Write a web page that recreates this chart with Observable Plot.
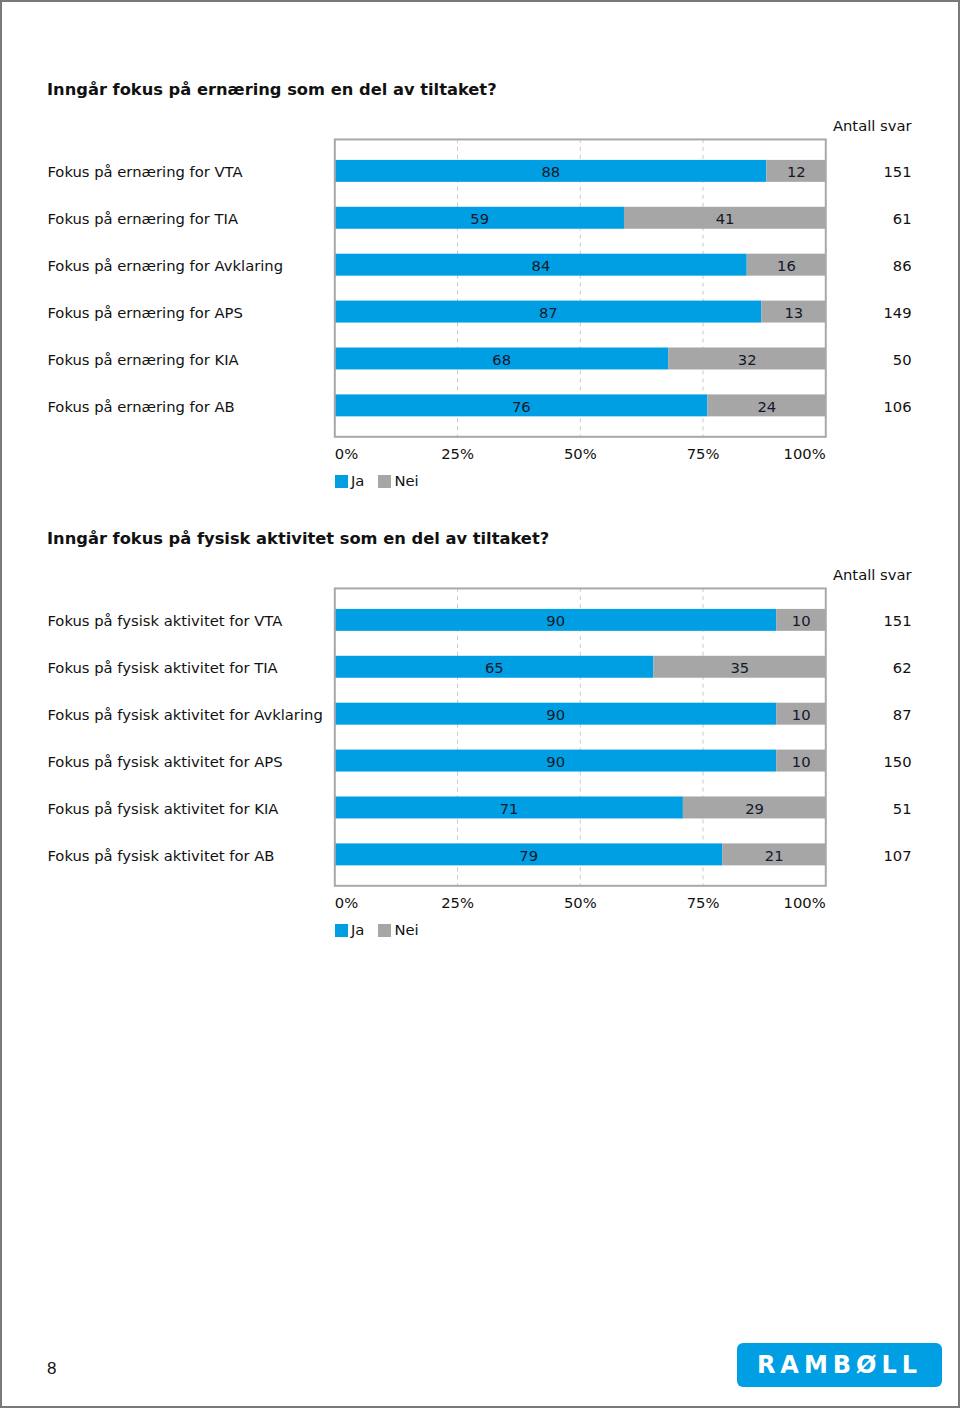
<!DOCTYPE html>
<html>
<head>
<meta charset="utf-8">
<script src="https://cdn.jsdelivr.net/npm/d3@7"></script>
<script src="https://cdn.jsdelivr.net/npm/@observablehq/plot@0.6"></script>
<style>
  html, body { margin: 0; padding: 0; background: #fff; }
  #page { position: relative; width: 956px; height: 1404px; border: 2px solid #7a7a7a; overflow: hidden; font-family: "DejaVu Sans", Verdana, sans-serif; color: #111; }
  .title { position: absolute; left: 45px; font-weight: bold; font-size: 16.3px; line-height: 20px; }
  .chart { position: absolute; left: -2px; }
  .legend { position: absolute; left: 333px; font-size: 14.8px; line-height: 18px; display: flex; align-items: center; }
  .sw { display: inline-block; width: 13px; height: 13px; margin-right: 3px; }
  .legend span.lab { margin-right: 14px; }
  #pnum { position: absolute; left: 45px; top: 1357px; font-family: "Liberation Sans", Arial, sans-serif; font-size: 17px; }
  #logo { position: absolute; left: 735px; top: 1341px; width: 205px; height: 44px; background: #009fe3; border-radius: 6px; color: #fff; font-family: "DejaVu Sans", sans-serif; font-weight: bold; font-size: 24px; letter-spacing: 5px; display: flex; align-items: center; justify-content: center; }
</style>
</head>
<body>
<div id="page"></div>
<script>
const titles = [
  "Inngår fokus på ernæring som en del av tiltaket?",
  "Inngår fokus på fysisk aktivitet som en del av tiltaket?"
];
const groups = ["VTA", "TIA", "Avklaring", "APS", "KIA", "AB"];
const prefixes = ["Fokus på ernæring for", "Fokus på fysisk aktivitet for"];
const ja1 = [88, 59, 84, 87, 68, 76];
const nei1 = [12, 41, 16, 13, 32, 24];
const n1 = [151, 61, 86, 149, 50, 106];
const ja2 = [90, 65, 90, 90, 71, 79];
const nei2 = [10, 35, 10, 10, 29, 21];
const n2 = [151, 62, 87, 150, 51, 107];
const seriesNames = ["Ja", "Nei"];
const seriesColors = ["#009fe3", "#a6a6a6"];
const tickValues = [0, 25, 50, 75, 100];
const tickLabels = ["0%", "25%", "50%", "75%", "100%"];
const countHeader = "Antall svar";

const page = document.getElementById("page");
const FONT = "DejaVu Sans, Verdana, sans-serif";
const FS = 14.8;

function makeChart(idx, ja, nei, counts, offset) {
  const labels = groups.map(g => prefixes[idx] + " " + g);
  const rows = [];
  labels.forEach((l, i) => {
    rows.push({label: l, series: "Ja", value: ja[i]});
    rows.push({label: l, series: "Nei", value: nei[i]});
  });
  const countRows = labels.map((l, i) => ({label: l, n: counts[i]}));
  const ticks = tickValues.map((v, i) => ({v, t: tickLabels[i]}));

  const t = document.createElement("div");
  t.className = "title";
  t.style.top = (78 + offset) + "px";
  t.textContent = titles[idx];
  page.appendChild(t);

  const common = {fill: "#111", fontSize: FS, lineAnchor: "middle"};
  const svg = Plot.plot({
    width: 960,
    height: 357,
    marginLeft: 335,
    marginRight: 133,
    marginTop: 29,
    marginBottom: 30,
    style: {fontFamily: FONT, fontSize: FS + "px", color: "#111", background: "transparent"},
    x: {domain: [0, 100], axis: null},
    y: {domain: labels, axis: null, paddingInner: 0.532, paddingOuter: 0.436},
    color: {domain: seriesNames, range: seriesColors},
    marks: [
      Plot.ruleX([25, 50, 75], {stroke: "#c8c8c8", strokeDasharray: "4,4", strokeWidth: 1}),
      Plot.barX(rows, Plot.stackX({x: "value", y: "label", fill: "series", order: seriesNames})),
      Plot.text(rows, Plot.stackX({x: "value", y: "label", z: "series", order: seriesNames, text: d => String(d.value), fill: "#14182a", fontSize: FS, lineAnchor: "middle", dy: 1})),
      Plot.frame({stroke: "#a8a8a8", strokeWidth: 2}),
      Plot.text(labels, {...common, y: d => d, text: d => d, frameAnchor: "left", textAnchor: "start", dx: -288, dy: 1}),
      Plot.text(countRows, {...common, y: "label", text: d => String(d.n), frameAnchor: "right", textAnchor: "end", dx: 86, dy: 1}),
      Plot.text([countHeader], {...common, text: d => d, frameAnchor: "top-right", textAnchor: "end", dx: 86, dy: -13}),
      Plot.text(ticks.filter(d => d.v === 0), {...common, x: "v", text: "t", frameAnchor: "bottom", dy: 17, textAnchor: "start"}),
      Plot.text(ticks.filter(d => d.v > 0 && d.v < 100), {...common, x: "v", text: "t", frameAnchor: "bottom", dy: 17, textAnchor: "middle"}),
      Plot.text(ticks.filter(d => d.v === 100), {...common, x: "v", text: "t", frameAnchor: "bottom", dy: 17, textAnchor: "end"})
    ]
  });
  const wrap = document.createElement("div");
  wrap.className = "chart";
  wrap.style.top = (110 - 2 + offset) + "px";
  wrap.appendChild(svg);
  page.appendChild(wrap);

  const lg = document.createElement("div");
  lg.className = "legend";
  lg.style.top = (470 + offset) + "px";
  seriesNames.forEach((s, i) => {
    const sw = document.createElement("span");
    sw.className = "sw";
    sw.style.background = seriesColors[i];
    const lab = document.createElement("span");
    lab.className = "lab";
    lab.textContent = s;
    lg.appendChild(sw);
    lg.appendChild(lab);
  });
  page.appendChild(lg);
}

makeChart(0, ja1, nei1, n1, 0);
makeChart(1, ja2, nei2, n2, 449);

const pn = document.createElement("div");
pn.id = "pnum";
pn.textContent = "8";
page.appendChild(pn);
const logo = document.createElement("div");
logo.id = "logo";
logo.textContent = "RAMBØLL";
page.appendChild(logo);
</script>
</body>
</html>
